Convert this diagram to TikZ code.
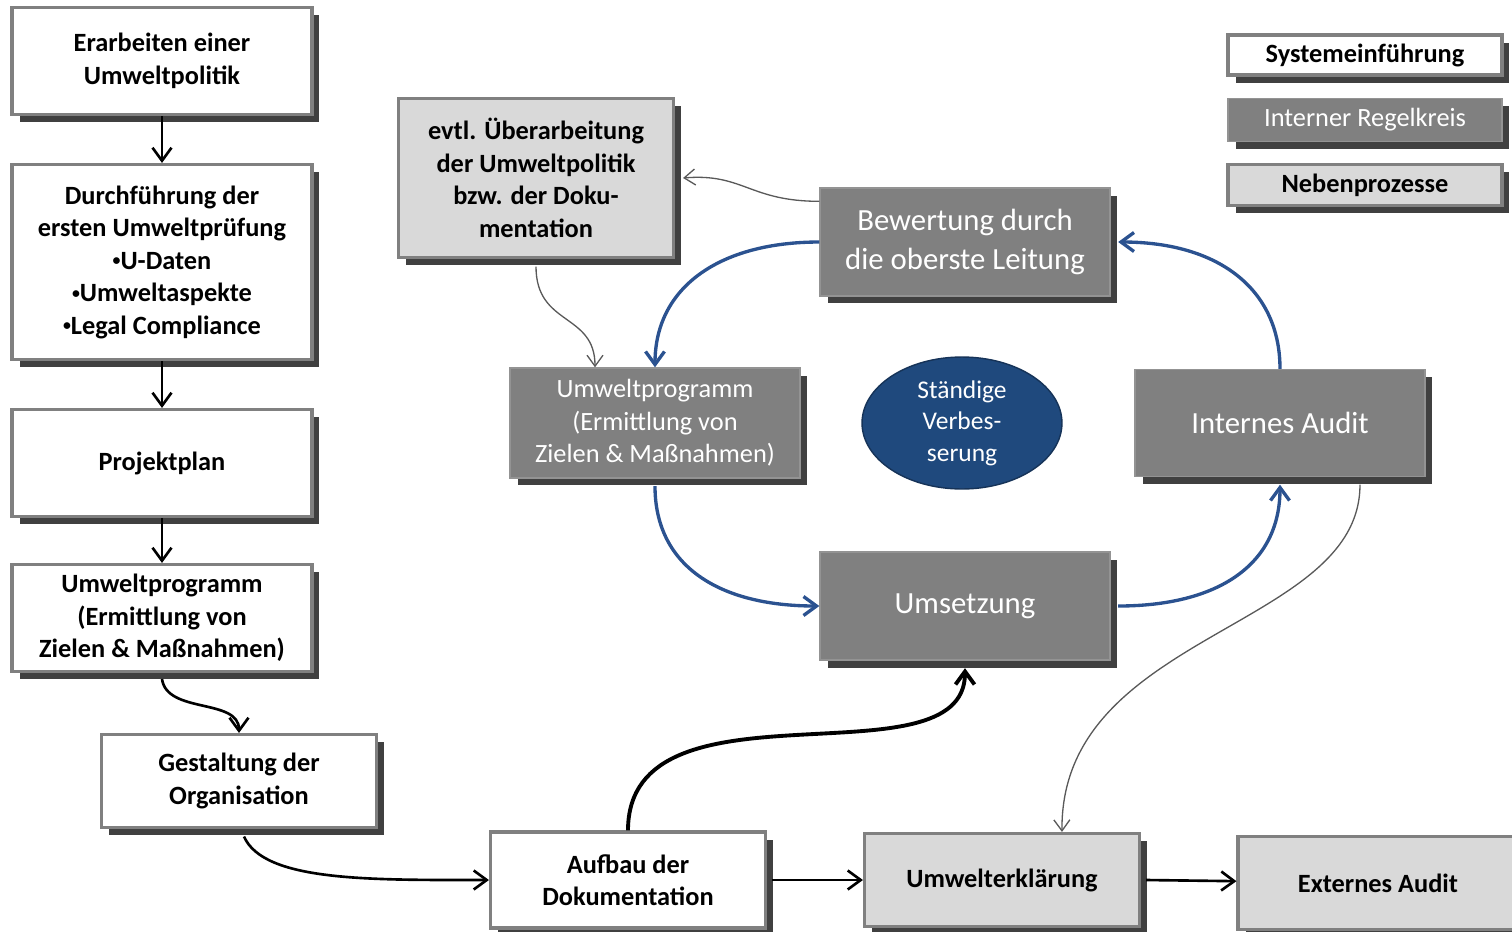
\documentclass[tikz,border=0pt]{standalone}
\usepackage{fontspec}
\setmainfont{Carlito}
\usetikzlibrary{arrows.meta,shadows,shapes.geometric}
\definecolor{boxgray}{HTML}{808080}
\definecolor{sidegray}{HTML}{D9D9D9}
\definecolor{shadegray}{HTML}{404040}
\definecolor{loopblue}{HTML}{2B5290}
\definecolor{ellblue}{HTML}{1F497D}
\definecolor{thingray}{HTML}{595959}
\newcommand{\pt}{\raisebox{0.12em}{\fontsize{9}{9}\selectfont•}}

\begin{document}
\begin{tikzpicture}[x=0.02cm, y=-0.02cm, >={Straight Barb[length=2.6mm,width=3.8mm]},
    box/.style={line width=1.8pt, align=center, inner sep=2pt,
      drop shadow={shadow xshift=1.5mm, shadow yshift=-1.5mm, opacity=1, fill=shadegray}},
    sysbox/.style={box, draw=boxgray, fill=white, font=\fontsize{15}{18.5}\selectfont\bfseries},
    sidebox/.style={box, draw=boxgray, fill=sidegray, font=\fontsize{15}{18.5}\selectfont\bfseries},
    loopbox/.style={box, line width=0.8pt, draw=boxgray!85!white, fill=boxgray, text=white,
      font=\fontsize{17.5}{22.5}\selectfont},
    flow/.style={->, line width=1.5pt},
    loopline/.style={->, line width=1.9pt, draw=loopblue},
    sideline/.style={->, line width=0.75pt, draw=thingray, >={Straight Barb[length=2.2mm,width=3.2mm]}}]
  \useasboundingbox (0, 0) rectangle (1512, 931);
  \path
  (162, 61) node[sysbox, minimum width=6cm, minimum height=2.14cm] (pol) {Erarbeiten einer\\Umweltpolitik}
  (162, 262) node[sysbox, minimum width=6cm, minimum height=3.9cm] (pruef)
    {Durchführung der\\ersten Umweltprüfung\\\pt U-Daten\\\pt Umweltaspekte\\\pt Legal Compliance}
  (162, 463) node[sysbox, minimum width=6cm, minimum height=2.14cm] (plan) {Projektplan}
  (162, 618) node[sysbox, minimum width=6cm, minimum height=2.14cm] (prog)
    {Umweltprogramm\\(Ermittlung von\\Zielen \& Maßnahmen)}
  (239, 781) node[sysbox, minimum width=5.5cm, minimum height=1.86cm] (org) {Gestaltung der\\Organisation}
  (628, 880) node[sysbox, minimum width=5.5cm, minimum height=1.92cm] (doku) {Aufbau der\\Dokumentation}
  (1002, 880) node[sidebox, minimum width=5.5cm, minimum height=1.86cm] (erkl) {Umwelterklärung}
  (1378, 883) node[sidebox, minimum width=5.6cm, minimum height=1.86cm] (ext) {Externes Audit}
  (536, 178) node[sidebox, minimum width=5.5cm, minimum height=3.18cm] (rev)
    {evtl. Überarbeitung\\der Umweltpolitik\\bzw. der Doku-\\mentation};
  \path
  (965, 242) node[loopbox, minimum width=5.8cm, minimum height=2.16cm] (bew) {Bewertung durch\\die oberste Leitung}
  (655, 423) node[loopbox, font=\fontsize{15}{18.5}\selectfont, minimum width=5.8cm, minimum height=2.2cm] (uprog)
    {Umweltprogramm\\(Ermittlung von\\Zielen \& Maßnahmen)}
  (1280, 423) node[loopbox, minimum width=5.8cm, minimum height=2.14cm] (audit) {Internes Audit}
  (965, 606) node[loopbox, minimum width=5.8cm, minimum height=2.16cm] (ums) {Umsetzung}
  (962, 423) node[ellipse, fill=ellblue, draw=ellblue!70!black, line width=0.8pt, text=white, align=center,
    inner sep=0pt, minimum width=4cm, minimum height=2.64cm, font=\fontsize{14.5}{18}\selectfont] (verb)
    {Ständige\\Verbes-\\serung};
  \path
  (1365, 55) node[sysbox, minimum width=5.48cm, minimum height=0.8cm] (keysys) {Systemeinführung}
  (1365, 120) node[loopbox, font=\fontsize{15}{18}\selectfont, minimum width=5.48cm, minimum height=0.86cm] (keyloop)
    {Interner Regelkreis}
  (1365, 185) node[sidebox, minimum width=5.48cm, minimum height=0.82cm] (keyside) {Nebenprozesse};
  \draw[flow] (pol) -- (pruef);
  \draw[flow] (pruef) -- (plan);
  \draw[flow] (plan) -- (prog);
  \draw[flow] ([yshift=-0.12cm]prog.south) .. controls +(5, 35) and +(0, -35) .. (org.north);
  \draw[flow] ([xshift=0.1cm, yshift=-0.15cm]org.south) .. controls +(20, 45) and +(-120, 0) .. (doku.west);
  \draw[flow] ([xshift=0.1cm]doku.east) -- (erkl);
  \draw[flow] ([xshift=0.1cm]erkl.east) -- (ext);
  \draw[flow, line width=2.2pt] (doku.north) .. controls +(0, -160) and +(0, 120) .. ([yshift=-0.15cm]ums.south);
  \draw[loopline] (bew.west) .. controls +(-100, 0) and +(0, -80) .. (uprog.north);
  \draw[loopline] ([yshift=-0.15cm]uprog.south) .. controls +(0, 80) and +(-100, 0) .. (ums.west);
  \draw[loopline] ([xshift=0.15cm]ums.east) .. controls +(100, 0) and +(0, 80) .. ([yshift=-0.15cm]audit.south);
  \draw[loopline] (audit.north) .. controls +(0, -80) and +(100, 0) .. ([xshift=0.15cm]bew.east);
  \draw[sideline] ([yshift=-0.28cm]bew.north west) .. controls +(-70, 0) and +(60, -5) .. ([xshift=0.16cm]rev.east);
  \draw[sideline] ([yshift=-0.15cm]rev.south) .. controls +(0, 60) and +(0, -55) .. ([xshift=-1.2cm]uprog.north);
  \draw[sideline] ([xshift=1.6cm, yshift=-0.15cm]audit.south) .. controls +(0, 145) and +(-2, -200) .. ([xshift=1.2cm]erkl.north);
\end{tikzpicture}
\end{document}
